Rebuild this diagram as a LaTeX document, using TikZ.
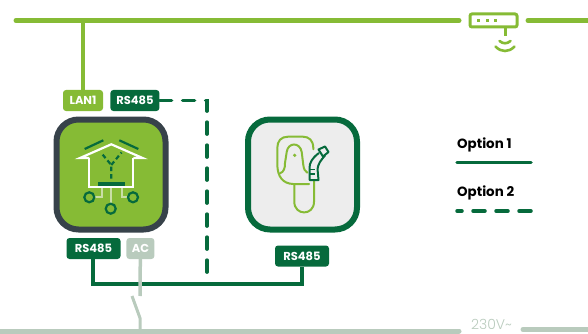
\documentclass[tikz,border=0pt]{standalone}
\usepackage{xcolor}
\usepackage{fontspec}
\setmainfont{Poppins}
\newfontfamily\voltfont{Poppins Light}
\usetikzlibrary{positioning}
\definecolor{leaf}{HTML}{86BB35}
\definecolor{forest}{HTML}{066A3C}
\definecolor{sage}{HTML}{B9CBBD}
\definecolor{slate}{HTML}{37424A}
\definecolor{pale}{HTML}{EDEDED}
\definecolor{mint}{HTML}{C9DEA6}

\begin{document}
\begin{tikzpicture}[
  x=1pt, y=-1pt,
  tag/.style={rounded corners=3pt, minimum height=21pt, inner sep=0pt, text=white,
              font=\bfseries\fontsize{11.5}{12}\selectfont, fill=#1},
  devbox/.style={draw=#1, line width=6pt, rounded corners=22pt, minimum width=109pt, minimum height=110pt},
  bus/.style={line width=5pt, line cap=round, #1},
  wire/.style={line width=3.5pt, forest},
  dashwire/.style={line width=3.5pt, forest, dash pattern=on 12pt off 11pt, line cap=round},
  legend/.style={font=\bfseries\fontsize{13.4}{15}\selectfont, anchor=west, inner sep=0pt}
]
  \useasboundingbox (0,0) rectangle (588,334);

  % buses
  \coordinate (topL) at (16,20.5);
  \coordinate (topM) at (459,20.5);
  \coordinate (topN) at (528,20.5);
  \coordinate (topR) at (591,20.5);
  \coordinate (lowL) at (-4,331);
  \coordinate (lowM) at (459,331);
  \coordinate (lowN) at (523,329.5);
  \coordinate (lowR) at (591,329.5);
  \draw[bus=leaf] (topL) -- (topM);
  \draw[bus=leaf] (topN) -- (topR);
  \draw[bus=sage] (lowL) -- (lowM);
  \draw[bus=sage] (lowN) -- (lowR);
  \node[text=sage, font=\voltfont\fontsize{14}{14}\selectfont, inner sep=0pt, anchor=base] (volt) at (491.5,329) {230V\string~};

  % router
  \node[draw=leaf, line width=3pt, rounded corners=2pt, fill=white, minimum width=47pt, minimum height=13pt, inner sep=0pt] (router) at (493.5,20.5) {};
  \foreach \dotx in {478,487,495}
    \fill[leaf] (\dotx-1.5,19) rectangle (\dotx+1.5,22);
  \coordinate (wifi) at (505,36);
  \draw[leaf, line width=3pt] (505,27) -- (wifi);
  \draw[leaf, line width=2.6pt, line cap=round] (499.5,41) .. controls (503,44) and (507,44) .. (510.5,41);
  \draw[leaf, line width=2.6pt, line cap=round] (495.5,46.5) .. controls (501,52.5) and (509,52.5) .. (514.5,46.5);

  % devices
  \node[devbox=slate, fill=leaf] (gateway) at (111,174.5) {};
  \node[devbox=forest, fill=pale] (charger) at (302.5,174.5) {};

  % tags
  \node[tag=leaf, minimum width=40pt] (lan) at (83,100.5) {LAN1};
  \node[tag=forest, minimum width=49pt, right=7pt of lan] (rsTop) {RS485};
  \node[tag=forest, minimum width=54pt] (rsLow) at (93.5,248.5) {RS485};
  \node[tag=sage, minimum width=28pt, right=5.5pt of rsLow] (ac) {AC};
  \node[tag=forest, minimum width=54pt] (rsEv) at (302,256) {RS485};

  % connectors
  \coordinate (lanUp) at (83,20.5);
  \coordinate (dashEnd) at (207,273);
  \coordinate (acEnd) at (140,296);
  \coordinate (swTop) at (132,296);
  \coordinate (swLow) at (140,318);
  \coordinate (swBus) at (140,329);
  \draw[line width=3.5pt, leaf] (lanUp) -- (lan);
  \draw[dashwire] (rsTop.east) -| (dashEnd);
  \draw[wire] (rsLow.south -| 93,0) |- (302,284) -- (rsEv.south -| 302,0);
  \draw[line width=3.5pt, sage] (ac) -- (acEnd);
  \draw[line width=3pt, sage, line join=round] (swTop) -- (swLow) -- (swBus);

  % house icon
  \draw[mint, line width=2.2pt] (110.7,187) -- (110.7,204);
  \draw[mint, line width=2.2pt] (101.7,187) -- (101.7,197.3) -- (95,197.3);
  \draw[mint, line width=2.2pt] (121.7,187) -- (121.7,197.3) -- (127.5,197.3);
  \draw[white, line width=2.2pt] (89.3,158) -- (89.3,187.3) -- (133.3,187.3) -- (133.3,158);
  \draw[white, line width=2.2pt] (89.3,158) -- (80,158) -- (111.3,144.3) -- (142.6,158) -- (133.3,158);
  \draw[forest, line width=2.2pt] (84.7,149) -- (103.3,140.3);
  \draw[forest, line width=2.2pt] (119.3,140.3) -- (138.3,149);
  \draw[forest, line width=2.2pt, dash pattern=on 4.5pt off 3pt] (111.3,178.5) -- (111.3,165) -- (101.3,153);
  \draw[forest, line width=2.2pt, dash pattern=on 4.5pt off 3pt] (111.3,165) -- (121.5,152.5);
  \fill[forest] (98,182) rectangle (124.7,186.3);
  \foreach \cx/\cy in {89.3/197.3, 133/197.3, 110.7/208.7}
    \draw[forest, line width=2.2pt] (\cx,\cy) circle[radius=5];

  % charger icon
  \draw[leaf, line width=2pt, line cap=round] (313.3,149.3) -- (313.3,148) .. controls (313.3,140.5) and (309,136.7) .. (303,136.7)
    -- (288,136.7) .. controls (281,136.7) and (277.3,141) .. (277.3,148) -- (277.3,164)
    .. controls (277.3,177) and (283,183.5) .. (293,184) -- (309,184);
  \draw[leaf, line width=2pt] (294.3,185) -- (294.3,201.7) .. controls (294.3,216) and (314,216) .. (314,201.7) -- (314,180);
  \draw[leaf, line width=2pt, line cap=round] (280,173.3) .. controls (284,172) and (285,168) .. (285,163) -- (286.7,152)
    .. controls (288,142) and (300,142) .. (301.7,152) -- (303.3,165) .. controls (303.8,169) and (305,171.5) .. (307.3,172.7);
  \fill[leaf] (294.7,155.3) circle[radius=1.8];
  \draw[forest, line width=2pt, line join=round] (318.5,149.5) -- (325,146.5) -- (328.5,152) -- (323,156.5) -- cycle;
  \draw[forest, line width=2pt, line join=round] (319,153) .. controls (312,158) and (309.5,163) .. (309.5,168) -- (309.5,180) -- (318.5,180)
    -- (317.5,169) .. controls (318,164) and (321,160) .. (325,155.5);
  \draw[forest, line width=1.6pt] (309.5,169.3) -- (314.5,169.3);
  \draw[forest, line width=1.6pt] (309.5,174) -- (314.5,174);

  % legend
  \node[legend] (optA) at (457,145) {Option 1};
  \node[legend] (optB) at (457,192.5) {Option 2};
  \coordinate (optAl) at (457,162.5);
  \coordinate (optAr) at (531,162.5);
  \coordinate (optBl) at (457,211);
  \coordinate (optBr) at (531,211);
  \draw[wire, line cap=round] (optAl) -- (optAr);
  \draw[dashwire] (optBr) -- (optBl);
\end{tikzpicture}
\end{document}
